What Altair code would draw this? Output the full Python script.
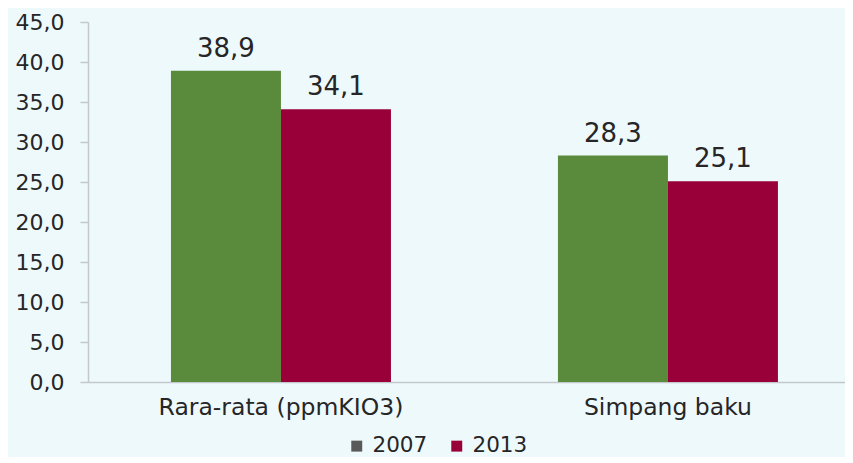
import altair as alt
import pandas as pd

categories = ["Rara-rata (ppmKIO3)", "Simpang baku"]
years = ["2007", "2013"]
values_2007 = [38.9, 28.3]
values_2013 = [34.1, 25.1]
y_ticks = [0, 5, 10, 15, 20, 25, 30, 35, 40, 45]

rows = []
for i, c in enumerate(categories):
    rows.append({"kategori": c, "tahun": years[0], "nilai": values_2007[i]})
    rows.append({"kategori": c, "tahun": years[1], "nilai": values_2013[i]})
df = pd.DataFrame(rows)
df["label"] = df["nilai"].map(lambda v: f"{v:.1f}".replace(".", ","))

FONT = "DejaVu Sans"
TXT = "#262626"
BG = "#eef9fc"

x_enc = alt.X(
    "kategori:N",
    sort=categories,
    scale=alt.Scale(paddingInner=0.4315, paddingOuter=0.1938, align=0.553),
    axis=alt.Axis(
        title=None, ticks=False, labelAngle=0, labelFontSize=23.5, labelFont=FONT,
        labelColor=TXT, labelPadding=13, domainColor="#c3c8ca", domainWidth=1.5,
        labelBaseline="top", labelLimit=0,
    ),
)
xo_enc = alt.XOffset("tahun:N", sort=years, scale=alt.Scale(paddingInner=0, paddingOuter=0))
y_scale = alt.Scale(domain=[0, 45], nice=False)
y_axis = alt.Axis(
    title=None, values=y_ticks, grid=False,
    labelExpr="replace(format(datum.value, '.1f'), '.', ',')",
    labelFontSize=22, labelFont=FONT, labelColor=TXT, labelPadding=16,
    tickSize=8, tickColor="#c3c8ca", domainColor="#c3c8ca", domainWidth=1.5, tickWidth=1.5,
)

legend_layer = alt.Chart(df).mark_square(size=120, opacity=1).encode(
    x=x_enc,
    xOffset=xo_enc,
    y=alt.datum(10, scale=y_scale, axis=y_axis),
    color=alt.Color(
        "tahun:N",
        sort=years,
        scale=alt.Scale(domain=years, range=["#595959", "#99003a"]),
        legend=alt.Legend(
            title=None, orient="none", direction="horizontal",
            legendX=258, legendY=413, padding=0,
            labelFontSize=21.5, labelFont=FONT, labelColor=TXT,
            symbolType="square", symbolSize=120, symbolStrokeWidth=0,
            columnPadding=18, labelOffset=5,
        ),
    ),
)

bars = alt.Chart(df).mark_bar().encode(
    x=x_enc,
    xOffset=xo_enc,
    y=alt.Y("nilai:Q", scale=y_scale, axis=y_axis),
    color=alt.Color(
        "tahun:N",
        sort=years,
        scale=alt.Scale(domain=years, range=["#5a8a3c", "#99003a"]),
        legend=None,
    ),
)

texts = alt.Chart(df).mark_text(
    fontSize=26, font=FONT, color=TXT, baseline="alphabetic", dy=-14
).encode(
    x=x_enc,
    xOffset=xo_enc,
    y=alt.Y("nilai:Q", scale=y_scale, axis=y_axis),
    text="label:N",
)

chart = (
    alt.layer(legend_layer, bars, texts)
    .resolve_scale(color="independent")
    .properties(
        width=757,
        height=360,
        autosize=alt.AutoSizeParams(type="none"),
        padding={"left": 80, "top": 14, "right": 0, "bottom": 75},
        background=BG,
    )
    .configure_view(stroke=None)
)

chart.save("out.html", embed_options={"renderer": "svg", "actions": False})
